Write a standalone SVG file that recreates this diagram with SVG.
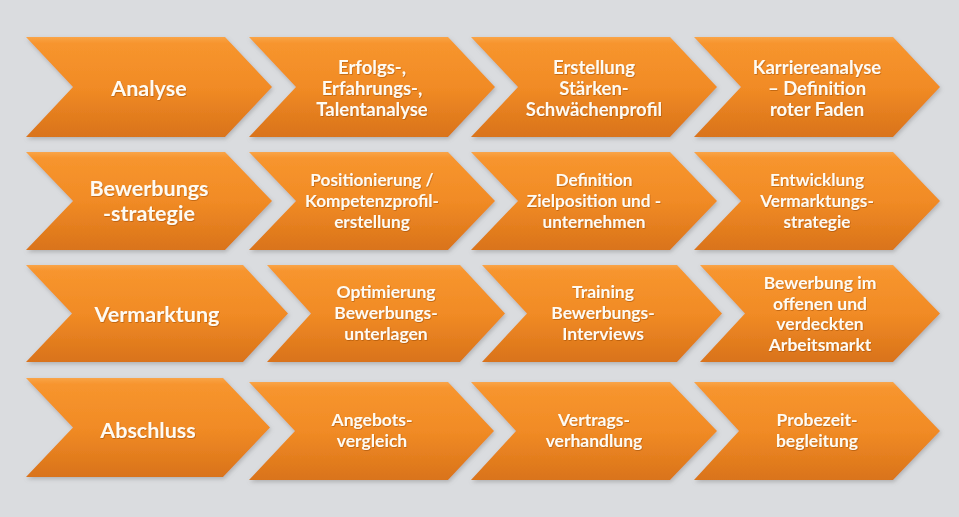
<svg xmlns="http://www.w3.org/2000/svg" width="959" height="517" viewBox="0 0 959 517">
  <defs>
    <linearGradient id="og" x1="0" y1="0" x2="0" y2="1">
      <stop offset="0" stop-color="#F9A448"/>
      <stop offset="0.06" stop-color="#F7952E"/>
      <stop offset="0.5" stop-color="#F18B25"/>
      <stop offset="1" stop-color="#D9731A"/>
    </linearGradient>
    <filter id="sh" x="-5%" y="-10%" width="110%" height="125%">
      <feDropShadow dx="1" dy="2" stdDeviation="2" flood-color="#7a7a7a" flood-opacity="0.45"/>
    </filter>
    <filter id="ts" x="-10%" y="-20%" width="120%" height="140%">
      <feDropShadow dx="0.6" dy="0.8" stdDeviation="0.6" flood-color="#8a3f00" flood-opacity="0.55"/>
    </filter>
  </defs>
  <style>
    .chev { fill: url(#og); filter: url(#sh); }
    .t { font-family: Lato, "Open Sans", "Liberation Sans", sans-serif; font-weight: bold; fill: #FFFBF2; text-anchor: middle; filter: url(#ts); }
    .big { font-size: 21.5px; }
    .s1 { font-size: 18.5px; }
    .s2 { font-size: 17.2px; }
    .s3 { font-size: 17.5px; }
  </style>
  <rect width="959" height="517" fill="#DADCDF"/>

  <g id="connectors"></g>

  <!-- Row 1 -->
  <g id="analyse">
    <path class="chev" d="M26,37 h199 l47,50 l-47,50 h-199 l47,-50 z"/>
    <text class="t big" x="149" y="95.5">Analyse</text>
  </g>
  <g id="erfolgsanalyse">
    <path class="chev" d="M249,37 h199 l47,50 l-47,50 h-199 l47,-50 z"/>
    <text class="t s1" x="372" y="73.5">Erfolgs-,</text>
    <text class="t s1" x="372" y="94.5">Erfahrungs-,</text>
    <text class="t s1" x="372" y="115.5">Talentanalyse</text>
  </g>
  <g id="staerkenprofil">
    <path class="chev" d="M471,37 h199 l47,50 l-47,50 h-199 l47,-50 z"/>
    <text class="t s1" x="594" y="73.5">Erstellung</text>
    <text class="t s1" x="594" y="94.5">Stärken-</text>
    <text class="t s1" x="594" y="115.5">Schwächenprofil</text>
  </g>
  <g id="karriereanalyse">
    <path class="chev" d="M694,37 h199 l47,50 l-47,50 h-199 l47,-50 z"/>
    <text class="t s1" x="817" y="73.5">Karriereanalyse</text>
    <text class="t s1" x="817" y="94.5">– Definition</text>
    <text class="t s1" x="817" y="115.5">roter Faden</text>
  </g>

  <!-- Row 2 -->
  <g id="bewerbungsstrategie">
    <path class="chev" d="M26,152 h199 l47,49 l-47,49 h-199 l47,-49 z"/>
    <text class="t big" x="149" y="195.5">Bewerbungs</text>
    <text class="t big" x="149" y="220.5">-strategie</text>
  </g>
  <g id="positionierung">
    <path class="chev" d="M249,152 h199 l47,49 l-47,49 h-199 l47,-49 z"/>
    <text class="t s2" x="372" y="186">Positionierung /</text>
    <text class="t s2" x="372" y="207">Kompetenzprofil-</text>
    <text class="t s2" x="372" y="228">erstellung</text>
  </g>
  <g id="zielposition">
    <path class="chev" d="M471,152 h199 l47,49 l-47,49 h-199 l47,-49 z"/>
    <text class="t s2" x="594" y="186">Definition</text>
    <text class="t s2" x="594" y="207">Zielposition und -</text>
    <text class="t s2" x="594" y="228">unternehmen</text>
  </g>
  <g id="vermarktungsstrategie">
    <path class="chev" d="M694,152 h199 l47,49 l-47,49 h-199 l47,-49 z"/>
    <text class="t s2" x="817" y="186">Entwicklung</text>
    <text class="t s2" x="817" y="207">Vermarktungs-</text>
    <text class="t s2" x="817" y="228">strategie</text>
  </g>

  <!-- Row 3 -->
  <g id="vermarktung">
    <path class="chev" d="M26,265 h217 l45,48.5 l-45,48.5 h-217 l46,-48.5 z"/>
    <text class="t big" x="157" y="321.5">Vermarktung</text>
  </g>
  <g id="optimierung">
    <path class="chev" d="M267,265 h193 l45,48.5 l-45,48.5 h-193 l44,-48.5 z"/>
    <text class="t s3" x="386" y="298">Optimierung</text>
    <text class="t s3" x="386" y="319">Bewerbungs-</text>
    <text class="t s3" x="386" y="340">unterlagen</text>
  </g>
  <g id="training">
    <path class="chev" d="M482,265 h195 l45,48.5 l-45,48.5 h-195 l45,-48.5 z"/>
    <text class="t s3" x="603" y="298">Training</text>
    <text class="t s3" x="603" y="319">Bewerbungs-</text>
    <text class="t s3" x="603" y="340">Interviews</text>
  </g>
  <g id="arbeitsmarkt">
    <path class="chev" d="M700,265 h193 l47,48.5 l-47,48.5 h-193 l45,-48.5 z"/>
    <text class="t s3" x="820" y="289">Bewerbung im</text>
    <text class="t s3" x="820" y="309.5">offenen und</text>
    <text class="t s3" x="820" y="330">verdeckten</text>
    <text class="t s3" x="820" y="350.5">Arbeitsmarkt</text>
  </g>

  <!-- Row 4 -->
  <g id="abschluss">
    <path class="chev" d="M26,378 h197 l47,49.5 l-47,49.5 h-197 l47,-49.5 z"/>
    <text class="t big" x="148" y="437.5">Abschluss</text>
  </g>
  <g id="angebotsvergleich">
    <path class="chev" d="M249,382 h199 l46,49 l-46,49 h-199 l46,-49 z"/>
    <text class="t s3" x="372" y="426">Angebots-</text>
    <text class="t s3" x="372" y="447">vergleich</text>
  </g>
  <g id="vertragsverhandlung">
    <path class="chev" d="M471,382 h199 l47,49 l-47,49 h-199 l45,-49 z"/>
    <text class="t s3" x="594" y="426">Vertrags-</text>
    <text class="t s3" x="594" y="447">verhandlung</text>
  </g>
  <g id="probezeitbegleitung">
    <path class="chev" d="M694,382 h199 l47,49 l-47,49 h-199 l45,-49 z"/>
    <text class="t s3" x="817" y="426">Probezeit-</text>
    <text class="t s3" x="817" y="447">begleitung</text>
  </g>
</svg>
